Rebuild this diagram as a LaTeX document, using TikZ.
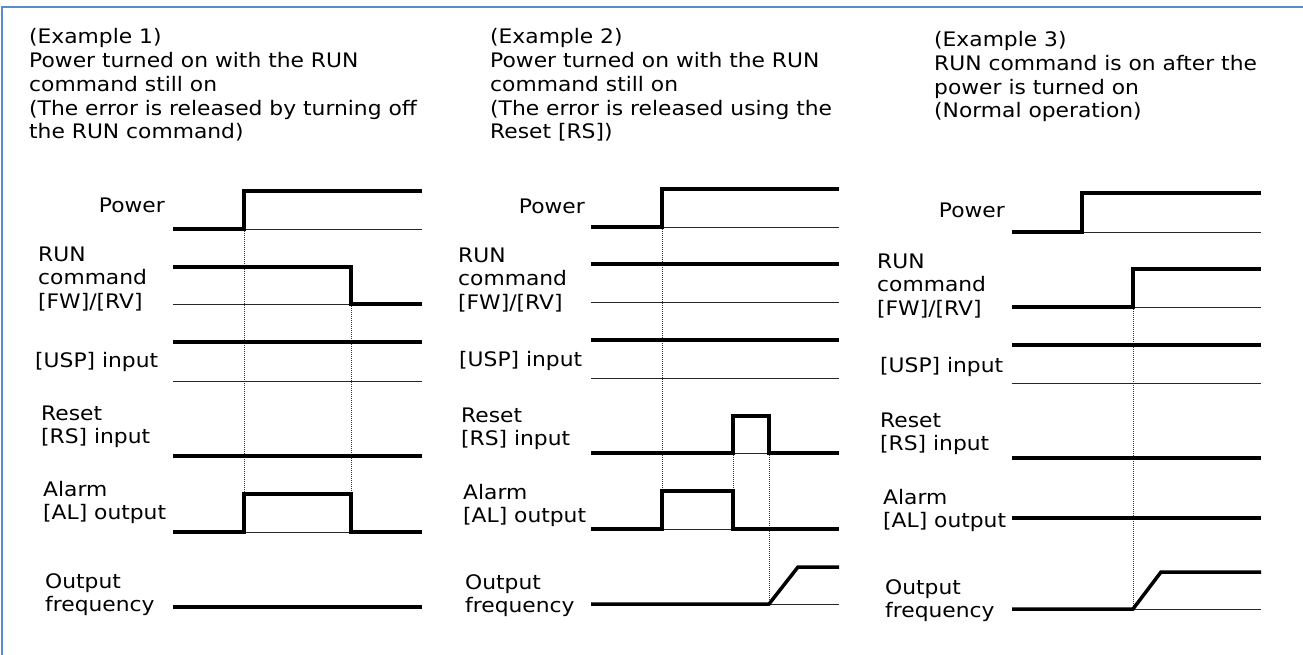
\documentclass[tikz,border=0pt]{standalone}
\usepackage{fontspec}
\setmainfont[FakeStretch=1.09]{DejaVu Sans}
\definecolor{framec}{HTML}{5B8BD0}
\tikzset{
  txt/.style={inner sep=0pt, align=left, font=\fontsize{20}{23.8}\selectfont},
  lbl/.style={txt, anchor=base west},
  rlbl/.style={txt, anchor=base east},
  ttl/.style={txt, anchor=base west},
  sig/.style={line width=3.5pt, line join=miter},
  base/.style={line width=1pt, black!85},
  guide/.style={line width=0.8pt, dash pattern=on 1pt off 1pt, black!80},
  frame/.style={line width=2pt, framec}
}
\begin{document}
\begin{tikzpicture}[x=1pt,y=-1pt]
\useasboundingbox (0,0) rectangle (1303,655);
\draw[frame] (2,655) -- (2,7) -- (1303,7);

% ---------------- Titles (anchor = baseline of last line)
\node[ttl] (t1) at (29,139) {(Example 1)\\Power turned on with the RUN\\command still on\\(The error is released by turning off\\the RUN command)};
\node[ttl] (t2) at (490,139) {(Example 2)\\Power turned on with the RUN\\command still on\\(The error is released using the\\Reset [RS])};
\node[ttl] (t3) at (934,118) {(Example 3)\\RUN command is on after the\\power is turned on\\(Normal operation)};

% ---------------- Panel 1 labels
\node[rlbl] (p1pw) at (165,212) {Power};
\node[lbl] (p1run) at (38,308.6) {RUN\\command\\{}[FW]/[RV]};
\node[lbl] (p1usp) at (35,367) {{}[USP] input};
\node[lbl] (p1rs) at (41,443.8) {Reset\\{}[RS] input};
\node[lbl] (p1al) at (43,519.8) {Alarm\\{}[AL] output};
\node[lbl] (p1fq) at (45,611.8) {Output\\frequency};

% ---------------- Panel 2 labels
\node[rlbl] (p2pw) at (585,213) {Power};
\node[lbl] (p2run) at (458,309.6) {RUN\\command\\{}[FW]/[RV]};
\node[lbl] (p2usp) at (459,366) {{}[USP] input};
\node[lbl] (p2rs) at (461,445.8) {Reset\\{}[RS] input};
\node[lbl] (p2al) at (463,522.8) {Alarm\\{}[AL] output};
\node[lbl] (p2fq) at (465,612.8) {Output\\frequency};

% ---------------- Panel 3 labels
\node[rlbl] (p3pw) at (1005,218) {Power};
\node[lbl] (p3run) at (877,315.6) {RUN\\command\\{}[FW]/[RV]};
\node[lbl] (p3usp) at (880,372) {{}[USP] input};
\node[lbl] (p3rs) at (880,450.8) {Reset\\{}[RS] input};
\node[lbl] (p3al) at (883,527.8) {Alarm\\{}[AL] output};
\node[lbl] (p3fq) at (885,617.8) {Output\\frequency};

% ---------------- Panel 1 waveforms
\draw[guide] (244,229) -- (244,494);
\draw[guide] (351,304) -- (351,494);
\draw[base] (244,229) -- (422,229);
\draw[sig] (173,229) -- (244,229) -- (244,191) -- (422,191);
\draw[base] (173,304) -- (351,304);
\draw[sig] (173,267) -- (351,267) -- (351,304) -- (422,304);
\draw[base] (173,381) -- (422,381);
\draw[sig] (173,342) -- (422,342);
\draw[sig] (173,456) -- (422,456);
\draw[base] (244,532) -- (351,532);
\draw[sig] (173,532) -- (244,532) -- (244,494) -- (351,494) -- (351,532) -- (422,532);
\draw[sig] (173,607) -- (422,607);

% ---------------- Panel 2 waveforms
\draw[guide] (662,227) -- (662,491);
\draw[guide] (733,453) -- (733,491);
\draw[guide] (769,453) -- (769,604);
\draw[base] (662,227) -- (839,227);
\draw[sig] (591,227) -- (662,227) -- (662,189) -- (839,189);
\draw[sig] (591,264) -- (839,264);
\draw[base] (591,302) -- (839,302);
\draw[sig] (591,340) -- (839,340);
\draw[base] (591,378) -- (839,378);
\draw[base] (733,453) -- (769,453);
\draw[sig] (591,453) -- (733,453) -- (733,416) -- (769,416) -- (769,453) -- (839,453);
\draw[base] (662,529) -- (733,529);
\draw[sig] (591,529) -- (662,529) -- (662,491) -- (733,491) -- (733,529) -- (839,529);
\draw[base] (769,604) -- (839,604);
\draw[sig] (591,604) -- (769,604) -- (798,567) -- (839,567);

% ---------------- Panel 3 waveforms
\draw[guide] (1133,307) -- (1133,609);
\draw[base] (1082,232) -- (1261,232);
\draw[sig] (1012,232) -- (1082,232) -- (1082,193) -- (1261,193);
\draw[base] (1133,307) -- (1261,307);
\draw[sig] (1012,307) -- (1133,307) -- (1133,269) -- (1261,269);
\draw[sig] (1012,345) -- (1261,345);
\draw[base] (1012,383) -- (1261,383);
\draw[sig] (1012,458) -- (1261,458);
\draw[sig] (1012,518) -- (1261,518);
\draw[base] (1133,609) -- (1261,609);
\draw[sig] (1012,609) -- (1133,609) -- (1161,572) -- (1261,572);
\end{tikzpicture}
\end{document}
